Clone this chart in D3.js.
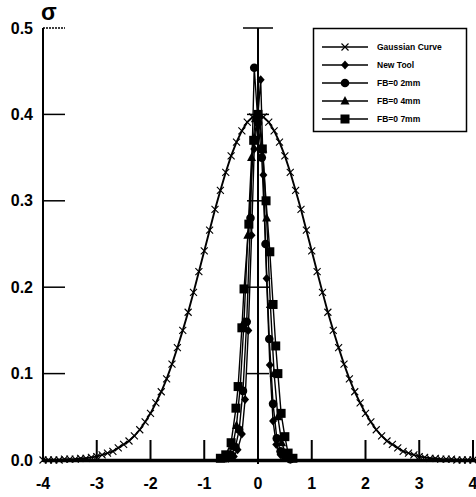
<!DOCTYPE html>
<html>
<head>
<meta charset="utf-8">
<script src="https://cdn.jsdelivr.net/npm/d3@7"></script>
<style>
  body { margin: 0; background: #fff; }
  svg { display: block; font-family: "Liberation Sans", Arial, sans-serif; font-weight: bold; }
</style>
</head>
<body>
<svg id="chart" width="476" height="497"></svg>
<script>
const xTicks = [-4, -3, -2, -1, 0, 1, 2, 3, 4];
const yTicks = [0.0, 0.1, 0.2, 0.3, 0.4, 0.5];

// gaussian curve (x marker every 0.1)
const gaussX = [-4.0,-3.9,-3.8,-3.7,-3.6,-3.5,-3.4,-3.3,-3.2,-3.1,-3.0,-2.9,-2.8,-2.7,-2.6,-2.5,-2.4,-2.3,-2.2,-2.1,
  -2.0,-1.9,-1.8,-1.7,-1.6,-1.5,-1.4,-1.3,-1.2,-1.1,-1.0,-0.9,-0.8,-0.7,-0.6,-0.5,-0.4,-0.3,-0.2,-0.1,
  0.0,0.1,0.2,0.3,0.4,0.5,0.6,0.7,0.8,0.9,1.0,1.1,1.2,1.3,1.4,1.5,1.6,1.7,1.8,1.9,
  2.0,2.1,2.2,2.3,2.4,2.5,2.6,2.7,2.8,2.9,3.0,3.1,3.2,3.3,3.4,3.5,3.6,3.7,3.8,3.9,4.0];
const gaussY = [0.000,0.000,0.000,0.000,0.001,0.001,0.001,0.002,0.002,0.003,0.004,0.006,0.008,0.010,0.014,0.018,0.022,0.028,0.035,0.044,
  0.054,0.066,0.079,0.094,0.111,0.130,0.150,0.171,0.194,0.218,0.242,0.266,0.290,0.312,0.333,0.352,0.368,0.381,0.391,0.397,
  0.399,0.397,0.391,0.381,0.368,0.352,0.333,0.312,0.290,0.266,0.242,0.218,0.194,0.171,0.150,0.130,0.111,0.094,0.079,0.066,
  0.054,0.044,0.035,0.028,0.022,0.018,0.014,0.010,0.008,0.006,0.004,0.003,0.002,0.002,0.001,0.001,0.001,0.000,0.000,0.000,0.000];

const newToolX = [-0.55,-0.45,-0.38,-0.30,-0.24,-0.18,-0.12,-0.07,0.00,0.05,0.10,0.16,0.22,0.28,0.34,0.42,0.50,0.60];
const newToolY = [0.002,0.004,0.012,0.030,0.070,0.150,0.260,0.360,0.400,0.440,0.330,0.210,0.110,0.045,0.018,0.006,0.003,0.001];

const fb02X = [-0.60,-0.50,-0.42,-0.35,-0.28,-0.21,-0.14,-0.07,0.00,0.07,0.14,0.21,0.28,0.35,0.42,0.50,0.60];
const fb02Y = [0.002,0.006,0.015,0.035,0.080,0.160,0.280,0.454,0.390,0.350,0.250,0.140,0.065,0.025,0.010,0.004,0.001];

const fb04X = [-0.65,-0.55,-0.47,-0.40,-0.33,-0.26,-0.19,-0.12,-0.05,0.02,0.09,0.16,0.23,0.30,0.37,0.44,0.52,0.62];
const fb04Y = [0.002,0.006,0.016,0.040,0.085,0.160,0.260,0.350,0.395,0.400,0.360,0.280,0.180,0.100,0.050,0.020,0.007,0.002];

const fb07X = [-0.70,-0.60,-0.50,-0.41,-0.37,-0.30,-0.26,-0.17,-0.08,0.00,0.08,0.15,0.22,0.28,0.33,0.37,0.43,0.50,0.56,0.65];
const fb07Y = [0.002,0.006,0.020,0.060,0.085,0.153,0.198,0.273,0.370,0.400,0.360,0.300,0.241,0.180,0.132,0.100,0.054,0.027,0.008,0.002];

const seriesNames = ["Gaussian Curve", "New Tool", "FB=0 2mm", "FB=0 4mm", "FB=0 7mm"];
const seriesShapes = ["cross", "diamond", "circle", "triangle", "square"];

const svg = d3.select("#chart");
const x = d3.scaleLinear().domain([-4, 4]).range([43, 473]);
const y = d3.scaleLinear().domain([0, 0.5]).range([460, 28]);

const line = d3.line().x(d => x(d[0])).y(d => y(d[1]));

function marker(g, shape, cx, cy) {
  if (shape === "cross") {
    g.append("path").attr("d", `M${cx-3.5},${cy-3.5}L${cx+3.5},${cy+3.5}M${cx-3.5},${cy+3.5}L${cx+3.5},${cy-3.5}`)
      .attr("stroke", "#000").attr("stroke-width", 1.1);
  } else if (shape === "diamond") {
    g.append("path").attr("d", `M${cx},${cy-4.5}L${cx+4},${cy}L${cx},${cy+4.5}L${cx-4},${cy}Z`).attr("fill", "#000");
  } else if (shape === "circle") {
    g.append("circle").attr("cx", cx).attr("cy", cy).attr("r", 4.3).attr("fill", "#000");
  } else if (shape === "triangle") {
    g.append("path").attr("d", `M${cx},${cy-5}L${cx+4.5},${cy+3.5}L${cx-4.5},${cy+3.5}Z`).attr("fill", "#000");
  } else {
    g.append("rect").attr("x", cx-4.5).attr("y", cy-4.5).attr("width", 9).attr("height", 9).attr("fill", "#000");
  }
}

// axes
const axes = svg.append("g").attr("stroke", "#000");
axes.append("line").attr("x1", x(-4)).attr("x2", x(-4)).attr("y1", y(0.5)).attr("y2", y(0) + 2).attr("stroke-width", 2);
axes.append("line").attr("x1", x(-4)).attr("x2", 476).attr("y1", y(0) + 0.5).attr("y2", y(0) + 0.5).attr("stroke-width", 3.5);
yTicks.forEach(t => {
  axes.append("line").attr("x1", x(-4)).attr("x2", x(-4) + 22).attr("y1", y(t)).attr("y2", y(t))
    .attr("stroke-width", 1.5).attr("stroke-dasharray", t === 0.5 ? "2,1" : null);
});
xTicks.slice(1).forEach(t => {
  axes.append("line").attr("x1", x(t)).attr("x2", x(t)).attr("y1", y(0)).attr("y2", y(0) - 20).attr("stroke-width", 2);
});
// centre axis at x = 0
axes.append("line").attr("x1", x(0)).attr("x2", x(0)).attr("y1", y(0.5)).attr("y2", y(0) + 4).attr("stroke-width", 2);
yTicks.slice(1).forEach(t => {
  const w = t === 0.5 ? 15 : 11;
  axes.append("line").attr("x1", x(0) - w).attr("x2", x(0) + w).attr("y1", y(t)).attr("y2", y(t)).attr("stroke-width", 1.5);
});

svg.append("g").selectAll("text").data(yTicks).join("text")
  .attr("x", 33).attr("y", d => y(d) + 5.5).attr("text-anchor", "end").attr("font-size", 16)
  .text(d => d.toFixed(1));
svg.append("g").selectAll("text").data(xTicks).join("text")
  .attr("x", d => x(d)).attr("y", 489).attr("text-anchor", "middle").attr("font-size", 16)
  .text(d => d);
svg.append("text").attr("x", 41).attr("y", 20).attr("font-size", 23).text("σ");

// series
const allSeries = [
  [gaussX, gaussY], [newToolX, newToolY], [fb02X, fb02Y], [fb04X, fb04Y], [fb07X, fb07Y]
];
allSeries.forEach((s, i) => {
  const pts = s[0].map((v, j) => [v, s[1][j]]);
  const g = svg.append("g");
  g.append("path").datum(pts).attr("d", line).attr("fill", "none").attr("stroke", "#000")
    .attr("stroke-width", i === 0 ? 1.9 : 1.4);
  pts.forEach(p => marker(g, seriesShapes[i], x(p[0]), y(p[1])));
});

// legend
const lg = svg.append("g");
lg.append("rect").attr("x", 313.5).attr("y", 28.5).attr("width", 153).attr("height", 103)
  .attr("fill", "#fff").attr("stroke", "#000").attr("stroke-width", 1.5);
seriesNames.forEach((name, i) => {
  const ly = 47 + i * 18;
  lg.append("line").attr("x1", 322).attr("x2", 368).attr("y1", ly).attr("y2", ly).attr("stroke", "#000").attr("stroke-width", 1.4);
  marker(lg, seriesShapes[i], 345, ly);
  lg.append("text").attr("x", 377).attr("y", ly + 3).attr("font-size", 8.5).text(name);
});
</script>
</body>
</html>
